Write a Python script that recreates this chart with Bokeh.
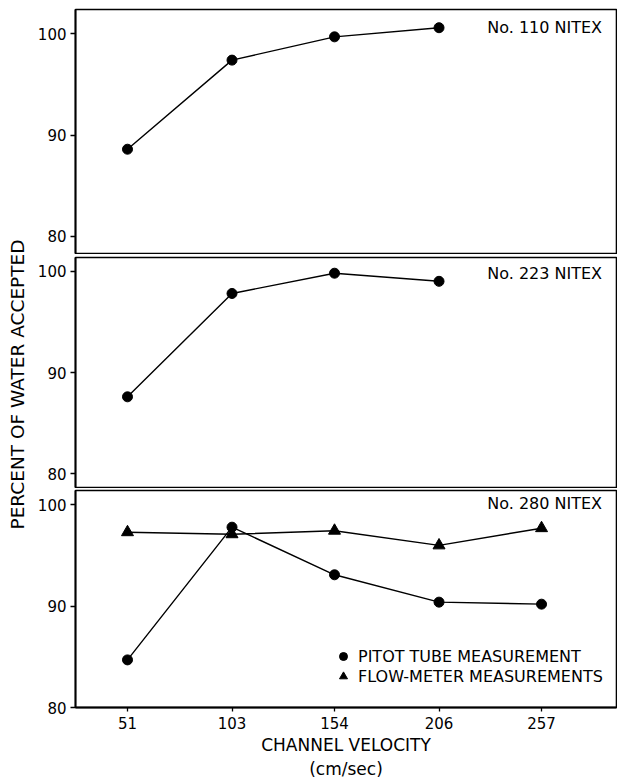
import math
from bokeh.plotting import figure
from bokeh.layouts import row, column
from bokeh.models import Range1d, FixedTicker, Legend, LegendItem, Label
from bokeh.embed import file_html
from bokeh.resources import INLINE

# ---------------- data ----------------
velocity = [51, 103, 154, 206, 257]                 # channel velocity, cm/sec
nitex110_pitot = [88.6, 97.4, 99.7, 100.6]          # No. 110 NITEX (first four velocities)
nitex223_pitot = [87.6, 97.8, 99.8, 99.0]           # No. 223 NITEX (first four velocities)
nitex280_pitot = [84.7, 97.8, 93.1, 90.4, 90.2]     # No. 280 NITEX, pitot tube
nitex280_flow = [97.3, 97.1, 97.45, 96.0, 97.7]     # No. 280 NITEX, flow meter
panel_labels = ["No. 110 NITEX", "No. 223 NITEX", "No. 280 NITEX"]
y_ticks = [80, 90, 100]
x_label = "CHANNEL VELOCITY\n(cm/sec)"
y_label = "PERCENT OF WATER ACCEPTED"
legend_labels = ["PITOT TUBE MEASUREMENT", "FLOW-METER MEASUREMENTS"]

FONT = "DejaVu Sans"
X_START, X_END = 25.13, 294.3
LINE_W = 1.4
DOT = 10
TRI = 12


def make_panel(height, border_top, border_bottom, y_start, y_end, show_x):
    p = figure(width=584, height=height,
               x_range=Range1d(X_START, X_END), y_range=Range1d(y_start, y_end),
               output_backend="svg", toolbar_location=None,
               x_axis_location="below" if show_x else None,
               min_border_left=42, min_border_right=1,
               min_border_top=border_top, min_border_bottom=border_bottom)
    p.grid.visible = False
    p.outline_line_color = "black"
    p.outline_line_width = 1.6
    p.background_fill_color = "white"
    p.border_fill_color = "white"
    ya = p.yaxis[0]
    ya.ticker = FixedTicker(ticks=y_ticks)
    ya.major_tick_out = 5
    ya.major_tick_in = 0
    ya.minor_tick_out = 0
    ya.minor_tick_in = 0
    ya.axis_line_width = 1.8
    ya.axis_line_color = "black"
    ya.major_tick_line_color = "black"
    ya.major_tick_line_width = 1.3
    ya.major_label_text_font = FONT
    ya.major_label_text_font_size = "15px"
    ya.major_label_text_color = "black"
    ya.major_label_standoff = 4
    return p


def panel_label(p, text, y):
    p.add_layout(Label(x=230.0, y=y, text=text, text_align="left",
                       text_baseline="middle", text_font=FONT,
                       text_font_size="16px", text_color="black"))


# ---------------- panel 1 ----------------
p1 = make_panel(254, 9, 1, 78.3, 102.4, False)
p1.line(velocity[:4], nitex110_pitot, line_color="black", line_width=LINE_W)
p1.scatter(velocity[:4], nitex110_pitot, marker="circle", size=DOT, color="black")
panel_label(p1, panel_labels[0], 100.65)

# ---------------- panel 2 ----------------
p2 = make_panel(234, 3, 1, 78.65, 101.35, False)
p2.line(velocity[:4], nitex223_pitot, line_color="black", line_width=LINE_W)
p2.scatter(velocity[:4], nitex223_pitot, marker="circle", size=DOT, color="black")
panel_label(p2, panel_labels[1], 99.77)

# ---------------- panel 3 ----------------
p3 = make_panel(293, 2, 73, 80.0, 101.42, True)
p3.line(velocity, nitex280_pitot, line_color="black", line_width=LINE_W)
r_pitot = p3.scatter(velocity, nitex280_pitot, marker="circle", size=DOT, color="black")
p3.line(velocity, nitex280_flow, line_color="black", line_width=LINE_W)
r_flow = p3.scatter(velocity, nitex280_flow, marker="triangle", size=TRI, color="black")
panel_label(p3, panel_labels[2], 100.1)

xa = p3.xaxis[0]
xa.ticker = FixedTicker(ticks=velocity)
xa.major_tick_out = 4
xa.major_tick_in = 0
xa.minor_tick_out = 0
xa.minor_tick_in = 0
xa.axis_line_width = 1.8
xa.axis_line_color = "black"
xa.major_tick_line_color = "black"
xa.major_tick_line_width = 1.3
xa.major_label_text_font = FONT
xa.major_label_text_font_size = "15px"
xa.major_label_text_color = "black"
xa.major_label_standoff = 5
xa.axis_label = x_label
xa.axis_label_standoff = 3
xa.axis_label_text_font = FONT
xa.axis_label_text_font_size = "17px"
xa.axis_label_text_font_style = "normal"
xa.axis_label_text_color = "black"

legend = Legend(
    items=[LegendItem(label=legend_labels[0], renderers=[r_pitot]),
           LegendItem(label=legend_labels[1], renderers=[r_flow])],
    location=(258, 21), orientation="vertical", padding=0, margin=0,
    spacing=0, glyph_width=20, glyph_height=20, label_standoff=5,
    label_height=20, label_text_font=FONT, label_text_font_size="16px",
    label_text_color="black", border_line_color=None,
    background_fill_alpha=0)
p3.add_layout(legend)

# ---------------- y label column ----------------
pl = figure(width=33, height=781, x_range=Range1d(0, 33), y_range=Range1d(0, 781),
            output_backend="svg", toolbar_location=None,
            x_axis_location=None, y_axis_location=None,
            min_border_left=0, min_border_right=0, min_border_top=0, min_border_bottom=0)
pl.grid.visible = False
pl.outline_line_color = None
pl.add_layout(Label(x=17, y=397, text=y_label, angle=math.pi / 2,
                    text_align="center", text_baseline="middle",
                    text_font=FONT, text_font_size="18.5px", text_color="black"))

layout = row(pl, column(p1, p2, p3, spacing=0), spacing=0)

with open("out.html", "w") as f:
    f.write(file_html(layout, INLINE))
